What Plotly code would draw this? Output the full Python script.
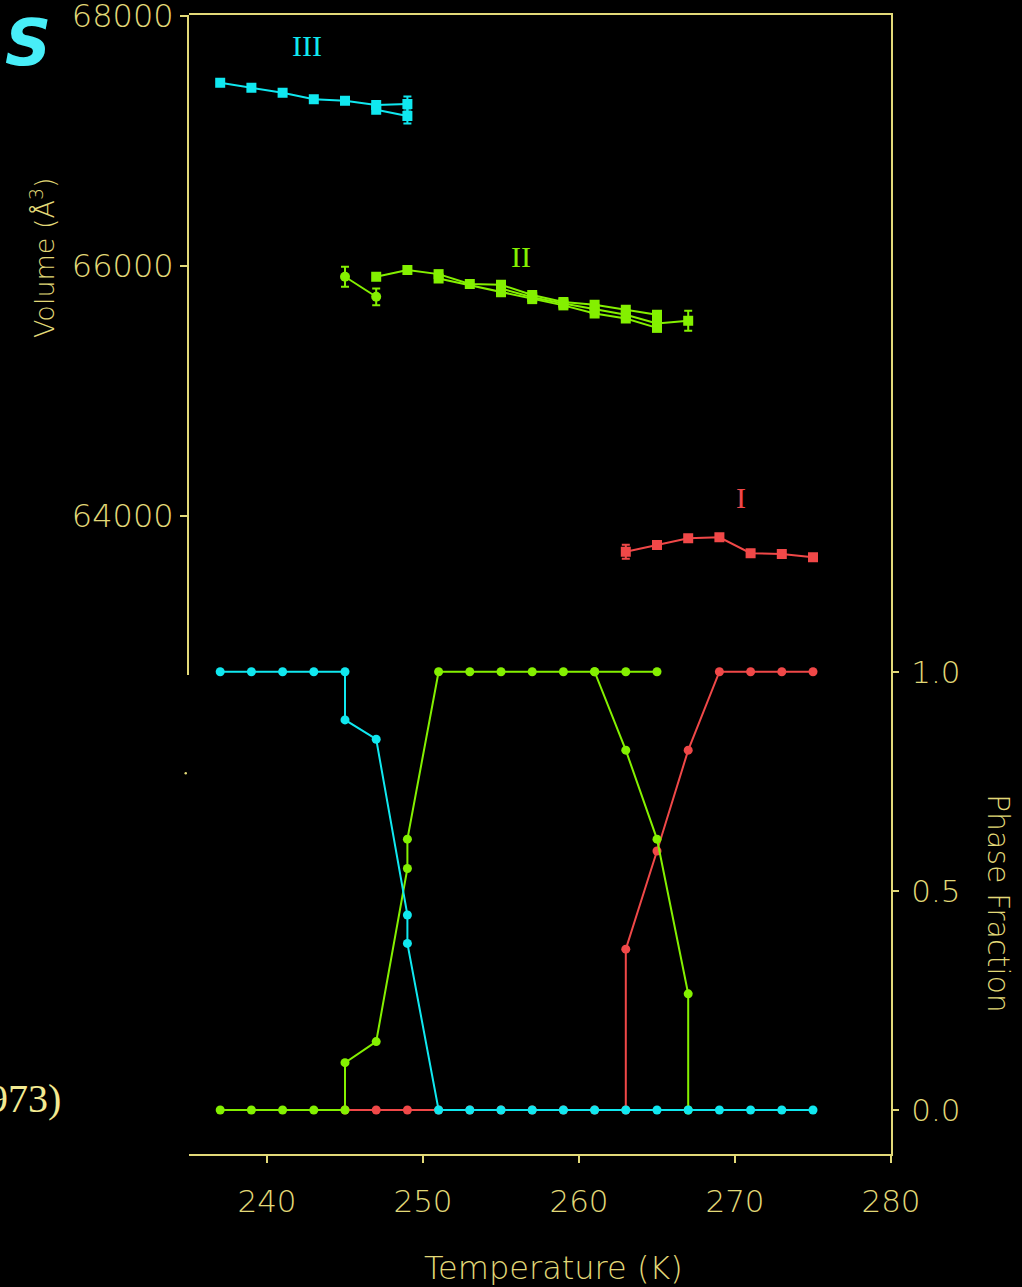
import plotly.graph_objects as go

# ---------------- data ----------------
# Volume (A^3) vs temperature (K)
III_T = [237, 239, 241, 243, 245, 247, 249]
III_V = [67466, 67426, 67386, 67334, 67322, 67288, 67296]
III_E = [0, 0, 0, 0, 0, 18, 60]
III_b_T = [247, 249]
III_b_V = [67250, 67200]
III_b_E = [0, 60]

II_a_T = [245, 247]
II_a_V = [65914, 65754]
II_a_E = [80, 67]
II_b_T = [247, 249, 251, 253, 255, 257, 259, 261, 263, 265]
II_b_V = [65914, 65968, 65935, 65856, 65850, 65768, 65712, 65690, 65650, 65610]
II_c_T = [255, 257, 259, 261, 263, 265, 267]
II_c_V = [65820, 65750, 65700, 65655, 65610, 65540, 65562]
II_c_E = [0, 0, 0, 0, 0, 0, 80]
II_d_T = [251, 255, 257, 259, 261, 263, 265]
II_d_V = [65900, 65790, 65735, 65685, 65620, 65580, 65505]

I_T = [263, 265, 267, 269, 271, 273, 275]
I_V = [63714, 63768, 63822, 63830, 63702, 63696, 63670]
I_E = [56, 0, 0, 0, 0, 0, 0]

# Phase fraction vs temperature
PF_III_T = [237, 239, 241, 243, 245, 245, 247, 249, 249, 251, 253, 255, 257,
            259, 261, 263, 265, 267, 269, 271, 273, 275]
PF_III = [1, 1, 1, 1, 1, 0.89, 0.846, 0.445, 0.38, 0, 0, 0, 0,
          0, 0, 0, 0, 0, 0, 0, 0, 0]
PF_II_T = [237, 239, 241, 243, 245, 245, 247, 249, 249, 251, 253, 255, 257,
           259, 261, 263, 265, 267, 267]
PF_II = [0, 0, 0, 0, 0, 0.108, 0.156, 0.551, 0.618, 1, 1, 1, 1,
         1, 1, 0.821, 0.618, 0.265, 0]
PF_II_b_T = [261, 263, 265]
PF_II_b = [1, 1, 1]
PF_I_T = [245, 247, 249, 251, 253, 255, 257, 259, 261, 263, 263, 265, 267,
          269, 271, 273, 275]
PF_I = [0, 0, 0, 0, 0, 0, 0, 0, 0, 0, 0.367, 0.591, 0.821,
        1, 1, 1, 1]

X_TICKS = [240, 250, 260, 270, 280]
V_TICKS = [64000, 66000, 68000]
V_TICKTEXT = ["64000", "66000", "68000"]
PF_TICKS = [0, 0.5, 1.0]
PF_TICKTEXT = ["0.0", "0.5", "1.0"]

# ---------------- style ----------------
W, H = 1022, 1287
CYAN = "#10e8f0"
GREEN = "#84f000"
RED = "#f04848"
AXC = "#e2d978"
FONT = "DejaVu Sans"


def px_x(p):
    return p / W


def px_y(p):
    return 1 - p / H


fig = go.Figure()


def vol_trace(T, V, color, err=None, symbol="square"):
    kw = dict(x=T, y=V, xaxis="x", yaxis="y", mode="lines+markers",
              line=dict(color=color, width=2),
              marker=dict(color=color, size=10, symbol=symbol),
              showlegend=False, hoverinfo="skip")
    if err is not None:
        kw["error_y"] = dict(type="data", array=err, visible=True,
                             color=color, thickness=2, width=4)
    fig.add_trace(go.Scatter(**kw))


def pf_trace(T, F, color):
    fig.add_trace(go.Scatter(x=T, y=F, xaxis="x", yaxis="y2",
                             mode="lines+markers",
                             line=dict(color=color, width=2),
                             marker=dict(color=color, size=9, symbol="circle"),
                             showlegend=False, hoverinfo="skip"))


vol_trace(III_T, III_V, CYAN, III_E)
vol_trace(III_b_T, III_b_V, CYAN, III_b_E)
vol_trace(II_a_T, II_a_V, GREEN, II_a_E, "circle")
vol_trace(II_b_T, II_b_V, GREEN)
vol_trace(II_c_T, II_c_V, GREEN, II_c_E)
vol_trace(II_d_T, II_d_V, GREEN)
vol_trace(I_T, I_V, RED, I_E)

pf_trace(PF_I_T, PF_I, RED)
pf_trace(PF_II_T, PF_II, GREEN)
pf_trace(PF_II_b_T, PF_II_b, GREEN)
pf_trace(PF_III_T, PF_III, CYAN)

tickfont = dict(family=FONT, size=31, color=AXC, weight=200)
ytickfont = dict(family=FONT, size=32, color=AXC, weight=200)

fig.update_layout(
    template="none",
    width=W, height=H, autosize=False,
    paper_bgcolor="black", plot_bgcolor="rgba(0,0,0,0)",
    margin=dict(l=0, r=0, t=0, b=0, pad=0),
    showlegend=False,
    xaxis=dict(domain=[px_x(189), px_x(891)], range=[235, 280],
               anchor="y2", tickvals=X_TICKS, automargin=False,
               ticklabeloverflow="allow",
               ticks="outside", ticklen=7, tickwidth=2, tickcolor=AXC,
               ticklabelstandoff=12,
               showline=True, linecolor=AXC, linewidth=2, mirror=True,
               showgrid=False, zeroline=False, tickfont=tickfont),
    yaxis=dict(domain=[px_y(675), px_y(15)], range=[62728, 68008],
               anchor="x", side="left", tickvals=V_TICKS,
               ticktext=V_TICKTEXT, automargin=False,
               ticklabeloverflow="allow",
               ticks="outside", ticklen=7, tickwidth=2, tickcolor=AXC,
               ticklabelstandoff=0,
               showline=True, linecolor=AXC, linewidth=2,
               showgrid=False, zeroline=False, tickfont=ytickfont),
    yaxis2=dict(domain=[px_y(1154), px_y(15)], range=[-0.1004, 2.4983],
                anchor="x", side="right", tickvals=PF_TICKS,
                ticktext=PF_TICKTEXT, automargin=False,
                ticklabeloverflow="allow",
                ticks="outside", ticklen=6, tickwidth=2, tickcolor=AXC,
                ticklabelstandoff=6,
                showline=True, linecolor=AXC, linewidth=2,
                showgrid=False, zeroline=False, tickfont=tickfont),
)

# phase labels
fig.add_annotation(x=242.55, y=67768, xref="x", yref="y", text="III",
                   showarrow=False, xanchor="center", yanchor="middle",
                   font=dict(family="Liberation Serif", size=30, color=CYAN))
fig.add_annotation(x=256.3, y=66080, xref="x", yref="y", text="II",
                   showarrow=False, xanchor="center", yanchor="middle",
                   font=dict(family="Liberation Serif", size=30, color=GREEN))
fig.add_annotation(x=270.4, y=64152, xref="x", yref="y", text="I",
                   showarrow=False, xanchor="center", yanchor="middle",
                   font=dict(family="Liberation Serif", size=30, color=RED))

# axis titles
fig.add_annotation(x=px_x(42), y=px_y(258), xref="paper", yref="paper",
                   text="Volume (Å<sup>3</sup>)", textangle=-90,
                   showarrow=False, xanchor="center", yanchor="middle",
                   font=dict(family=FONT, size=27, color=AXC, weight=200))
fig.add_annotation(x=px_x(999), y=px_y(903), xref="paper", yref="paper",
                   text="Phase Fraction", textangle=90, showarrow=False,
                   xanchor="center", yanchor="middle",
                   font=dict(family=FONT, size=30, color=AXC, weight=200))
fig.add_annotation(x=px_x(553), y=px_y(1268), xref="paper", yref="paper",
                   text="Temperature (K)", showarrow=False,
                   xanchor="center", yanchor="middle",
                   font=dict(family=FONT, size=32, color=AXC, weight=200))

# slide fragments
fig.add_annotation(x=px_x(3), y=px_y(43), xref="paper", yref="paper",
                   text="<b><i>S</i></b>", showarrow=False,
                   xanchor="left", yanchor="middle",
                   font=dict(family="DejaVu Sans", size=64, color="#48eef8"))
fig.add_annotation(x=px_x(63), y=px_y(1098), xref="paper", yref="paper",
                   xanchor="right", yanchor="middle", text="973)",
                   showarrow=False,
                   font=dict(family="Liberation Serif", size=40,
                             color="#f2ea92"))

# small stray dot
fig.add_shape(type="circle", xref="paper", yref="paper",
              x0=px_x(184.5), x1=px_x(187), y0=px_y(774.5), y1=px_y(772),
              fillcolor=AXC, line=dict(width=0))

fig.write_html(
    "out.html",
    config={"displayModeBar": False},
    post_script="document.body.style.margin='0';"
                "document.body.style.background='black';"
                "document.body.style.overflow='hidden';",
)
